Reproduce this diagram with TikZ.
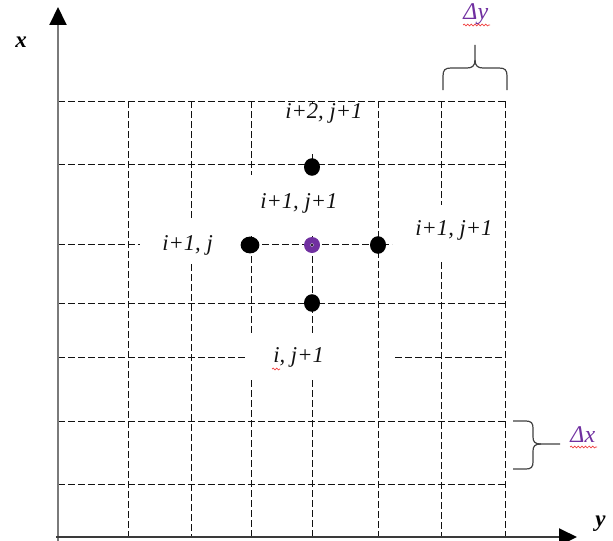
\documentclass[tikz,border=0pt]{standalone}
\usepackage{fontspec}
\setmainfont{Liberation Serif}
\usetikzlibrary{arrows.meta,shapes.geometric,decorations.pathmorphing}
\definecolor{gdInk}{HTML}{111111}
\definecolor{gdAxis}{HTML}{7A7A7A}
\definecolor{gdAxisDark}{HTML}{3A3A3A}
\definecolor{gdPurple}{HTML}{7030A0}
\definecolor{gdRed}{HTML}{F04040}
\tikzset{
  gd grid/.style={draw=gdInk, line width=.5pt, dash pattern=on 3.4pt off 1.6pt},
  gd axis/.style={
    line width=1pt,
    -{Triangle[length=9pt,width=8.5pt,color=black]}
  },
  gd dot/.style={ellipse, fill=black, inner sep=0pt,
    minimum width=8pt, minimum height=8.8pt},
  gd centre/.style={circle, fill=gdPurple, inner sep=0pt, minimum size=8pt},
  gd core/.style={circle, fill=black, draw=gdPurple!40, line width=.3pt,
    inner sep=0pt, minimum size=1.8pt},
  gd brace/.style={draw=gdInk!80, line width=.6pt},
  gd label/.style={font=\fontsize{11.3}{13}\selectfont\itshape, text=gdInk,
    inner sep=0pt, anchor=base west},
  gd axis label/.style={font=\fontsize{11.5}{13}\selectfont\bfseries\itshape,
    inner sep=0pt, anchor=base west},
  gd delta/.style={font=\fontsize{12}{14}\selectfont\itshape, text=gdPurple,
    inner sep=0pt, anchor=base west},
  gd squiggle/.style={draw=gdRed, line width=.35pt, decorate,
    decoration={snake, amplitude=.45pt, segment length=1.8pt}}
}

\begin{document}
\begin{tikzpicture}[x=.5pt,y=-.5pt]
  \useasboundingbox (0,0) rectangle (613,540);
  \coordinate (O) at (58,537);
  \coordinate (xbase) at (58,541);
  \coordinate (ybase) at (56,537);
  \coordinate (xtip) at (58,7);
  \coordinate (ytip) at (577,537);

  % grid rows
  \foreach \r in {101,164,303,421,484}
    \draw[gd grid] (58,\r) -- (505,\r);
  \draw[gd grid] (58,244) -- (140,244) (242,244) -- (392,244);
  \draw[gd grid] (58,357) -- (247,357) (395,357) -- (505,357);
  % grid columns
  \foreach \c in {128,378,505}
    \draw[gd grid] (\c,101) -- (\c,537);
  \draw[gd grid] (191,101) -- (191,219) (191,264) -- (191,537);
  \draw[gd grid] (251,101) -- (251,175) (251,236) -- (251,333) (251,380) -- (251,537);
  \draw[gd grid] (312,101) -- (312,104) (312,154) -- (312,172)
    (312,236) -- (312,334) (312,380) -- (312,537);
  \draw[gd grid] (441,101) -- (441,205) (441,262) -- (441,537);

  % axes
  \draw[gd axis, draw=gdAxis] (xbase) -- (xtip);
  \draw[gd axis, draw=gdAxisDark] (ybase) -- (ytip);
  \node[gd axis label] (xlab) at (15,47) {x};
  \node[gd axis label] (ylab) at (595,526) {y};

  % stencil points
  \node[gd dot] (pTop) at (312,167) {};
  \node[gd dot] (pBottom) at (312,303) {};
  \node[gd dot, minimum width=9.4pt, minimum height=8.4pt] (pLeft) at (250,245) {};
  \node[gd dot] (pRight) at (378,245) {};
  \node[gd centre] (pC) at (312,245) {};
  \node[gd core] at (pC) {};

  % labels
  \node[gd label] (lTop) at (285,118) {i+2, j+1};
  \node[gd label] (lMid) at (260,208) {i+1, j+1};
  \node[gd label] (lLeft) at (162,250) {i+1, j};
  \node[gd label] (lRight) at (415,235) {i+1, j+1};
  \node[gd label] (lBottom) at (273,362) {i, j+1};
  \draw[gd squiggle] (272,369) -- (280,369);

  % step braces
  \draw[gd brace] (443,90) -- (443,76) .. controls (443,70) and (445,68) .. (451,68)
    -- (467,68) .. controls (472,68) and (475,66) .. (475,60) -- (475,45);
  \draw[gd brace] (507,90) -- (507,76) .. controls (507,70) and (505,68) .. (499,68)
    -- (483,68) .. controls (478,68) and (475,66) .. (475,60);
  \node[gd delta] (dy) at (463,20) {Δy};
  \draw[gd squiggle] (463,25) -- (490,25);

  \draw[gd brace] (513,421) -- (526,421) .. controls (531,421) and (533,423) .. (533,428)
    -- (533,437) .. controls (533,442) and (535,444) .. (541,444) -- (560,444);
  \draw[gd brace] (513,469) -- (526,469) .. controls (531,469) and (533,467) .. (533,462)
    -- (533,451) .. controls (533,446) and (535,444) .. (541,444);
  \node[gd delta] (dx) at (570,442) {Δx};
  \draw[gd squiggle] (570,447) -- (597,447);
\end{tikzpicture}
\end{document}
